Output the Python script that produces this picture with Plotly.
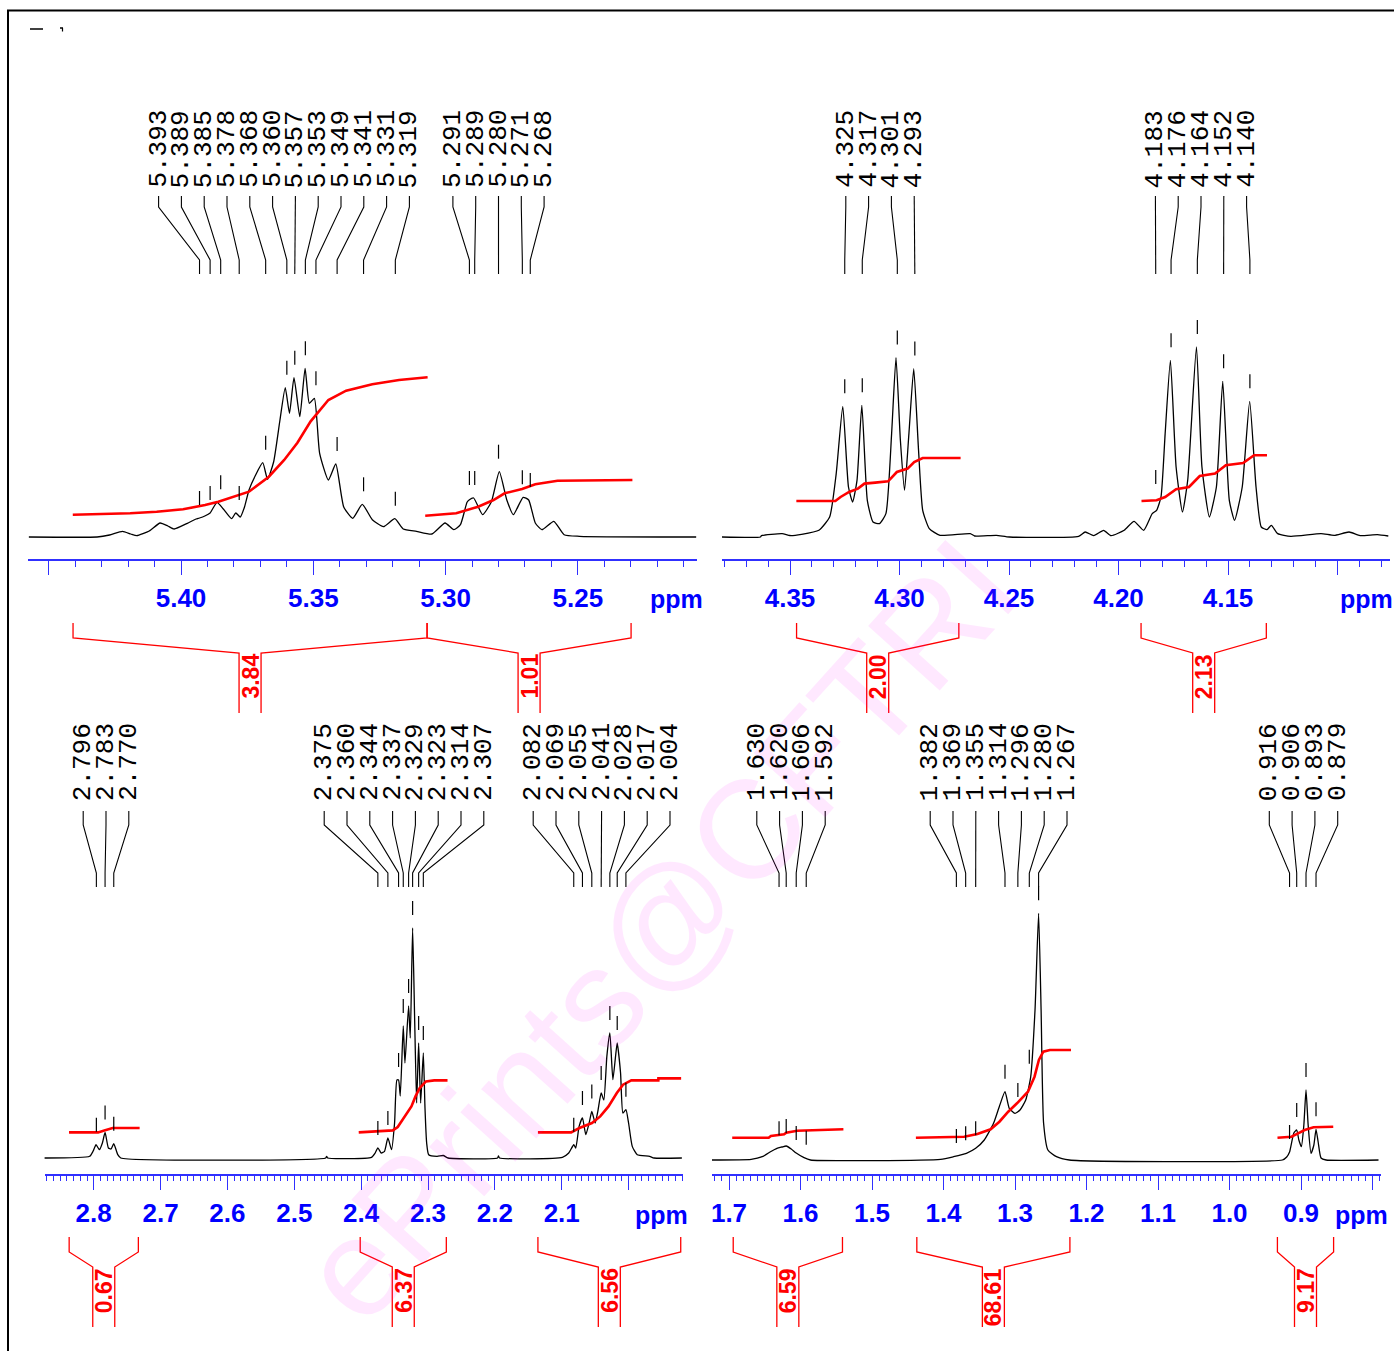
import numpy as np
import plotly.graph_objects as go

W, H = 1394, 1351
BLUE = "#0000ff"
AXBLUE = "#3030ff"
RED = "#ff0000"
MONO = "Liberation Mono, DejaVu Sans Mono, monospace"
NARROW = "Liberation Sans Narrow, Arial Narrow, Liberation Sans, Arial, sans-serif"

# ------------------------------------------------------------------ data
# peak labels (ppm)
A_PEAKS_1 = [5.393, 5.389, 5.385, 5.378, 5.368, 5.360, 5.357, 5.353, 5.349, 5.341, 5.331, 5.319]
A_PEAKS_2 = [5.291, 5.289, 5.280, 5.271, 5.268]
B_PEAKS_1 = [4.325, 4.317, 4.301, 4.293]
B_PEAKS_2 = [4.183, 4.176, 4.164, 4.152, 4.140]
C_PEAKS_1 = [2.796, 2.783, 2.770]
C_PEAKS_2 = [2.375, 2.360, 2.344, 2.337, 2.329, 2.323, 2.314, 2.307]
C_PEAKS_3 = [2.082, 2.069, 2.055, 2.041, 2.028, 2.017, 2.004]
D_PEAKS_1 = [1.630, 1.620, 1.606, 1.592]
D_PEAKS_2 = [1.382, 1.369, 1.355, 1.314, 1.296, 1.280, 1.267]
D_PEAKS_3 = [0.916, 0.906, 0.893, 0.879]

# integral regions (ppm from, ppm to) and values
A_INT_RANGES = [(5.4408, 5.3070), (5.3070, 5.2299)]
A_INT_VALUES = ["3.84", "1.01"]
B_INT_RANGES = [(4.3470, 4.2729), (4.1897, 4.1325)]
B_INT_VALUES = ["2.00", "2.13"]
C_INT_RANGES = [(2.8367, 2.7332), (2.4014, 2.2726), (2.1356, 1.9220)]
C_INT_VALUES = ["0.67", "6.37", "6.56"]
D_INT_RANGES = [(1.6941, 1.5413), (1.4373, 1.2232), (0.9330, 0.8544)]
D_INT_VALUES = ["6.59", "68.61", "9.17"]

# axis ticks
A_TICKS = [5.45, 5.40, 5.35, 5.30, 5.25]
A_TICK_TEXT = ["", "5.40", "5.35", "5.30", "5.25"]
B_TICKS = [4.35, 4.30, 4.25, 4.20, 4.15, 4.10]
B_TICK_TEXT = ["4.35", "4.30", "4.25", "4.20", "4.15", ""]
C_TICKS = [2.8, 2.7, 2.6, 2.5, 2.4, 2.3, 2.2, 2.1, 2.0]
C_TICK_TEXT = ["2.8", "2.7", "2.6", "2.5", "2.4", "2.3", "2.2", "2.1", ""]
D_TICKS = [1.7, 1.6, 1.5, 1.4, 1.3, 1.2, 1.1, 1.0, 0.9, 0.8]
D_TICK_TEXT = ["1.7", "1.6", "1.5", "1.4", "1.3", "1.2", "1.1", "1.0", "0.9", ""]

# spectra (ppm, intensity)
A_SPECTRUM = [
    (5.4575, 0), (5.4317, 0), (5.4270, 2), (5.4221, 5.7), (5.4190, 3), (5.4167, 1.3),
    (5.4120, 6), (5.4079, 14), (5.4050, 11), (5.4026, 8), (5.3976, 13.7), (5.3943, 18),
    (5.3930, 19), (5.3910, 21), (5.3890, 24), (5.3864, 34.7), (5.3840, 28), (5.3809, 18.3),
    (5.3793, 24), (5.3776, 20), (5.3760, 30), (5.3743, 47), (5.3718, 62), (5.3691, 74.3),
    (5.3673, 57.7), (5.3650, 75), (5.3626, 117), (5.3606, 149.3), (5.3590, 123.7),
    (5.3573, 159.3), (5.3551, 120.3), (5.3531, 168.7), (5.3515, 133.7), (5.3496, 138.7),
    (5.3476, 83.7), (5.3443, 57), (5.3415, 73), (5.3385, 30), (5.3351, 18.7), (5.3315, 32.7),
    (5.3277, 17.3), (5.3235, 10.3), (5.3192, 18.3), (5.3160, 8), (5.3110, 5.7), (5.3052, 3),
    (5.3002, 14), (5.2969, 7.3), (5.2944, 12.3), (5.2919, 34.7), (5.2910, 37.3), (5.2894, 39),
    (5.2860, 22.3), (5.2827, 35.3), (5.2797, 65.3), (5.2769, 37.3), (5.2744, 22.3),
    (5.2707, 39.7), (5.2686, 37), (5.2661, 14), (5.2636, 7.3), (5.2591, 15.7), (5.2552, 2.3),
    (5.2494, 0.7), (5.2053, 0),
]
B_SPECTRUM = [
    (4.3813, 0), (4.3635, 0), (4.3630, 1.4), (4.3536, 3.4), (4.3500, 1.5), (4.3447, 2.7),
    (4.3368, 6.7), (4.3319, 20), (4.3289, 63.4), (4.3259, 130.7), (4.3233, 50), (4.3214, 35),
    (4.3194, 56.7), (4.3172, 131.7), (4.3147, 36.7), (4.3121, 15), (4.3091, 13.4),
    (4.3062, 23.4), (4.3036, 103.4), (4.3016, 179.4), (4.2996, 96.7), (4.2977, 46.7),
    (4.2957, 103.4), (4.2935, 168.4), (4.2913, 86.7), (4.2894, 26.7), (4.2864, 8.4),
    (4.2815, 1.7), (4.2677, 3.4), (4.2657, 1), (4.2558, 1.7), (4.2498, 0), (4.2182, 0.7),
    (4.2152, 5), (4.2113, 1.4), (4.2068, 6.7), (4.2034, 1.4), (4.1974, 6.7), (4.1929, 15.7),
    (4.1885, 6.7), (4.1846, 23.4), (4.1826, 26.7), (4.1806, 40), (4.1787, 103.4),
    (4.1763, 176.7), (4.1737, 70), (4.1708, 25), (4.1684, 56.7), (4.1644, 190), (4.1619, 70),
    (4.1585, 20), (4.1553, 50), (4.1524, 155.7), (4.1494, 36.7), (4.1470, 16.7), (4.1435, 50),
    (4.1401, 135.7), (4.1372, 50), (4.1348, 10), (4.1322, 7.4), (4.1302, 11.7), (4.1273, 3.4),
    (4.1213, 0.7), (4.1075, 3.4), (4.1015, 1.7), (4.0947, 5), (4.0897, 1.4), (4.0818, 2.4),
    (4.0768, 1),
]
C_SPECTRUM = [
    (2.8761, 0), (2.8060, 1.7), (2.8010, 6.7), (2.7965, 13.3), (2.7915, 8.3), (2.7870, 15),
    (2.7830, 25.6), (2.7780, 10), (2.7740, 9), (2.7700, 14.3), (2.7640, 3.3), (2.7595, 0),
    (2.4530, 0), (2.4515, 1.7), (2.4500, 0), (2.3845, 0.7), (2.3790, 5), (2.3750, 10),
    (2.3700, 5), (2.3650, 6.7), (2.3600, 20), (2.3545, 8.3), (2.3500, 35), (2.3465, 78),
    (2.3440, 78), (2.3415, 62), (2.3370, 132), (2.3345, 95), (2.3290, 152), (2.3265, 120),
    (2.3230, 230), (2.3200, 140), (2.3170, 55), (2.3140, 115), (2.3110, 55), (2.3070, 105),
    (2.3045, 50), (2.3020, 15), (2.2990, 3.3), (2.2865, 1.7), (2.2771, 2.5), (2.2700, 0),
    (2.1960, 0), (2.1946, 2), (2.1930, 0), (2.0990, 0.7), (2.0895, 5), (2.0820, 13.3),
    (2.0790, 10), (2.0740, 31.6), (2.0690, 40), (2.0640, 23.3), (2.0590, 35), (2.0550, 46.6),
    (2.0500, 35), (2.0460, 46.6), (2.0410, 65), (2.0370, 58), (2.0325, 101.6), (2.0280, 125),
    (2.0235, 78.3), (2.0195, 101.6), (2.0170, 115), (2.0120, 85), (2.0085, 45), (2.0040, 48.3),
    (2.0000, 35), (1.9945, 11.6), (1.9870, 3.3), (1.9685, 1.7), (1.9620, 0), (1.9203, 0),
]
D_SPECTRUM = [
    (1.7266, 0), (1.6690, 0.7), (1.6535, 3.3), (1.6420, 8.3), (1.6330, 11.7), (1.6260, 13),
    (1.6200, 14), (1.6130, 11), (1.6060, 7), (1.5950, 2.3), (1.5860, 0), (1.4040, 0.7),
    (1.3860, 3.3), (1.3680, 6.7), (1.3550, 11.7), (1.3430, 20), (1.3300, 36.7), (1.3220, 53.3),
    (1.3140, 68.3), (1.3080, 51.7), (1.3000, 46.7), (1.2930, 50), (1.2850, 60), (1.2780, 83.3),
    (1.2720, 150), (1.2670, 246.7), (1.2635, 150), (1.2600, 36.7), (1.2540, 10), (1.2420, 3.3),
    (1.2240, 0), (0.9260, 0), (0.9200, 3), (0.9160, 8), (0.9100, 27), (0.9060, 30),
    (0.9030, 20), (0.8995, 13.3), (0.8960, 35), (0.8930, 70), (0.8900, 35), (0.8860, 6.7),
    (0.8820, 15), (0.8790, 30.7), (0.8760, 18), (0.8720, 2), (0.8650, 0), (0.7916, 0),
]

# integral curves (ppm, value)
A_INT_1 = [(5.4409, 22.3), (5.4192, 23.7), (5.4092, 25.3), (5.3992, 27.7), (5.3909, 32),
           (5.3859, 35.3), (5.3743, 45.3), (5.3668, 60.3), (5.3610, 77), (5.3560, 94.3),
           (5.3510, 115.7), (5.3476, 127), (5.3443, 137), (5.3376, 146.3), (5.3277, 152.7),
           (5.3176, 157), (5.3068, 159.7)]
A_INT_2 = [(5.3077, 21.3), (5.2960, 23.7), (5.2877, 30.3), (5.2819, 37), (5.2777, 43.7),
           (5.2711, 48), (5.2661, 52.7), (5.2577, 56.3), (5.2294, 57)]
B_INT_1 = [(4.3471, 36), (4.3293, 36), (4.3269, 40), (4.3230, 45), (4.3190, 48.4),
           (4.3160, 53.4), (4.3111, 54.4), (4.3052, 55.7), (4.3012, 65), (4.2963, 68.4),
           (4.2933, 75), (4.2894, 79), (4.2721, 79)]
B_INT_2 = [(4.1895, 36), (4.1826, 36.7), (4.1787, 40), (4.1737, 47.7), (4.1678, 50),
           (4.1629, 61), (4.1559, 63.4), (4.1510, 71.7), (4.1431, 74), (4.1381, 81.7),
           (4.1322, 81.7)]
C_INT_1 = [(2.8369, 25.6), (2.7934, 25.6), (2.7841, 27.6), (2.7717, 30), (2.7313, 30)]
C_INT_2 = [(2.4036, 25.6), (2.3527, 27.6), (2.3453, 31), (2.3342, 41.6), (2.3248, 51.6),
           (2.3187, 61.6), (2.3124, 70), (2.3031, 76.6), (2.2907, 77.6), (2.2708, 77.6)]
C_INT_3 = [(2.1356, 25.6), (2.0859, 25.6), (2.0735, 30), (2.0548, 35), (2.0424, 41.6),
           (2.0300, 51.6), (2.0176, 65), (2.0083, 73.3), (1.9959, 77.6), (1.9555, 77.6),
           (1.9554, 79.6), (1.9214, 79.6)]
D_INT_1 = [(1.6955, 22.3), (1.6445, 22.3), (1.6414, 24), (1.6229, 25.7), (1.6200, 27.3),
           (1.6045, 29.3), (1.5400, 30.7)]
D_INT_2 = [(1.4386, 22.3), (1.3711, 23.3), (1.3526, 26), (1.3341, 30.7), (1.3218, 38.3),
           (1.3095, 48.3), (1.2972, 56.7), (1.2819, 68.3), (1.2727, 83.3), (1.2666, 100),
           (1.2604, 108.3), (1.2512, 110), (1.2217, 110)]
D_INT_3 = [(0.9329, 22.3), (0.9133, 23.3), (0.9041, 26.7), (0.8948, 30), (0.8825, 32.7),
           (0.8549, 33.3)]

# ------------------------------------------------------------------ layout constants
TOP = dict(base=537, axis_y=560, vert=(95, 718), tl=14, label_bottom=188,
           lead=(196, 207, 260, 274), brk=(623, 638, 653, 713))
BOT = dict(axis_y=1174.5, vert=(718, 1345), tl=15, label_bottom=801,
           lead=(811, 825, 873, 887))

PANELS = [
    dict(TOP, ref_ppm=5.40, ref_px=181.0, ppp=2646.0, px=(28, 697), ppm_xy=(676, 599),
         spectrum=A_SPECTRUM, integrals=[A_INT_1, A_INT_2], groups=[A_PEAKS_1, A_PEAKS_2],
         centers=[284, 498.5], ranges=A_INT_RANGES, values=A_INT_VALUES,
         ticks=A_TICKS, ticktext=A_TICK_TEXT, tol=0.0018),
    dict(TOP, ref_ppm=4.35, ref_px=790.0, ppp=2190.0, px=(722, 1390), ppm_xy=(1366, 599),
         spectrum=B_SPECTRUM, integrals=[B_INT_1, B_INT_2], groups=[B_PEAKS_1, B_PEAKS_2],
         centers=[880, 1201], ranges=B_INT_RANGES, values=B_INT_VALUES,
         ticks=B_TICKS, ticktext=B_TICK_TEXT, tol=0.003),
    dict(BOT, base=1158, brk=(1237, 1252, 1267, 1327), ref_ppm=2.8, ref_px=93.7, ppp=668.6,
         px=(44.6, 683), ppm_xy=(661, 1215),
         spectrum=C_SPECTRUM, integrals=[C_INT_1, C_INT_2, C_INT_3],
         groups=[C_PEAKS_1, C_PEAKS_2, C_PEAKS_3], centers=[106, 404, 601.6],
         ranges=C_INT_RANGES, values=C_INT_VALUES, ticks=C_TICKS, ticktext=C_TICK_TEXT, tol=0.0025),
    dict(BOT, base=1160, brk=(1237, 1252, 1267, 1327), ref_ppm=1.7, ref_px=729.0, ppp=715.0,
         px=(712, 1380.5), ppm_xy=(1361, 1215),
         spectrum=D_SPECTRUM, integrals=[D_INT_1, D_INT_2, D_INT_3],
         groups=[D_PEAKS_1, D_PEAKS_2, D_PEAKS_3], centers=[791, 998.6, 1303.5],
         ranges=D_INT_RANGES, values=D_INT_VALUES, ticks=D_TICKS, ticktext=D_TICK_TEXT, tol=0.004),
]
STRIDE = 22.8
STEM_HALF = 11.0


def px2ppm(P, px):
    return P["ref_ppm"] - (px - P["ref_px"]) / P["ppp"]


def ppm2px(P, ppm):
    return P["ref_px"] + (P["ref_ppm"] - ppm) * P["ppp"]


def hh(P, py):
    return P["base"] - py


def peak_height(spec, p, tol):
    xs = np.array([s[0] for s in spec])
    ys = np.array([s[1] for s in spec])
    m = np.abs(xs - p) <= tol
    if m.any():
        return float(ys[m].max())
    o = np.argsort(xs)
    return float(np.interp(p, xs[o], ys[o]))


fig = go.Figure()
annotations = []
layout_axes = {}

# watermark first (drawn beneath other annotations)
annotations.append(dict(
    xref="paper", yref="paper", x=658 / W, y=1 - 930 / H, xanchor="center", yanchor="middle",
    text="ePrints@CFTRI", showarrow=False, textangle=-48,
    font=dict(family="Liberation Sans, Arial, sans-serif", size=140, color="rgba(255,0,255,0.09)")))

for k, P in enumerate(PANELS, start=1):
    sfx = "" if k == 1 else str(k)
    xr, yr = "x" + sfx, "y" + sfx
    px0, px1 = P["px"]
    vt, vb = P["vert"]

    layout_axes["xaxis" + sfx] = dict(
        domain=[px0 / W, px1 / W], range=[px2ppm(P, px0), px2ppm(P, px1)],
        anchor="free", position=1 - P["axis_y"] / H,
        showline=True, linecolor=AXBLUE, linewidth=1.5, mirror=False,
        ticks="outside", ticklen=P["tl"], tickwidth=1.3, tickcolor=AXBLUE,
        tickmode="array", tickvals=P["ticks"], ticktext=P["ticktext"],
        tickfont=dict(family=NARROW, size=26, color=BLUE, weight="bold"),
        ticklabelstandoff=1,
        showgrid=False, zeroline=False, fixedrange=True,
        minor=dict(tickmode="linear", tick0=0, dtick=0.01, ticks="outside", ticklen=6,
                   tickwidth=1, tickcolor=AXBLUE, showgrid=False),
    )
    layout_axes["yaxis" + sfx] = dict(
        domain=[1 - vb / H, 1 - vt / H], range=[hh(P, vb), hh(P, vt)],
        visible=False, anchor=xr, fixedrange=True)

    # spectrum
    sx = [s[0] for s in P["spectrum"]]
    sy = [s[1] for s in P["spectrum"]]
    fig.add_trace(go.Scatter(x=sx, y=sy, mode="lines", xaxis=xr, yaxis=yr,
                             line=dict(color="black", width=1.3, shape="spline", smoothing=0.5),
                             hoverinfo="skip", showlegend=False))
    # integral curves
    for curve in P["integrals"]:
        fig.add_trace(go.Scatter(x=[c[0] for c in curve], y=[c[1] for c in curve], mode="lines",
                                 xaxis=xr, yaxis=yr, line=dict(color=RED, width=2.6),
                                 hoverinfo="skip", showlegend=False))

    # peak marks, leader lines, labels
    mx, my, lx, ly = [], [], [], []
    t1, t2, t3, t4 = P["lead"]
    for grp, cen in zip(P["groups"], P["centers"]):
        n = len(grp)
        for i, p in enumerate(grp):
            h = peak_height(P["spectrum"], p, P["tol"])
            mx += [p, p, None]
            my += [h + 13, h + 27, None]
            lab_px = cen + (i - (n - 1) / 2) * STRIDE
            lp = px2ppm(P, lab_px)
            lx += [lp, lp, p, p, None]
            ly += [hh(P, t1), hh(P, t2), hh(P, t3), hh(P, t4), None]
            annotations.append(dict(
                xref=xr, yref=yr, x=lp, y=hh(P, P["label_bottom"]), xanchor="center",
                yanchor="bottom", text=f"{p:.3f}", showarrow=False, textangle=-90,
                borderpad=0, borderwidth=0,
                font=dict(family=MONO, size=26, color="black")))
    fig.add_trace(go.Scatter(x=mx, y=my, mode="lines", xaxis=xr, yaxis=yr,
                             line=dict(color="black", width=1.2), hoverinfo="skip", showlegend=False))
    fig.add_trace(go.Scatter(x=lx, y=ly, mode="lines", xaxis=xr, yaxis=yr,
                             line=dict(color="black", width=1.1), hoverinfo="skip", showlegend=False))

    # integration brackets
    bt, be, bs, bb = P["brk"]
    bx, by = [], []
    for (p0, p1), val in zip(P["ranges"], P["values"]):
        a, b = ppm2px(P, p0), ppm2px(P, p1)
        mid = (a + b) / 2
        sl, sr = px2ppm(P, mid - STEM_HALF), px2ppm(P, mid + STEM_HALF)
        bx += [p0, p0, sl, sl, None, p1, p1, sr, sr, None]
        by += [hh(P, bt), hh(P, be), hh(P, bs), hh(P, bb), None,
               hh(P, bt), hh(P, be), hh(P, bs), hh(P, bb), None]
        annotations.append(dict(
            xref=xr, yref=yr, x=px2ppm(P, mid), y=hh(P, bs + 1), xanchor="center", yanchor="top",
            text=f"<b>{val}</b>", showarrow=False, textangle=-90, borderpad=0, borderwidth=0,
            font=dict(family=NARROW, size=23, color=RED)))
    fig.add_trace(go.Scatter(x=bx, y=by, mode="lines", xaxis=xr, yaxis=yr,
                             line=dict(color=RED, width=1.3), hoverinfo="skip", showlegend=False))

    # ppm unit label
    ux, uy = P["ppm_xy"]
    annotations.append(dict(
        xref="paper", yref="paper", x=ux / W, y=1 - uy / H, xanchor="center", yanchor="middle",
        text="<b>ppm</b>", showarrow=False,
        font=dict(family=NARROW, size=25, color=BLUE)))

shapes = [
    dict(type="rect", xref="paper", yref="paper", x0=8 / W, x1=1.02, y0=-0.02, y1=1 - 10.5 / H,
         line=dict(color="black", width=2), fillcolor="rgba(0,0,0,0)"),
    dict(type="line", xref="paper", yref="paper", x0=30 / W, x1=43 / W, y0=1 - 29 / H, y1=1 - 29 / H,
         line=dict(color="black", width=1.5)),
    dict(type="line", xref="paper", yref="paper", x0=60 / W, x1=63 / W, y0=1 - 28 / H, y1=1 - 28 / H,
         line=dict(color="black", width=1.5)),
    dict(type="line", xref="paper", yref="paper", x0=62.5 / W, x1=62.5 / W, y0=1 - 28 / H, y1=1 - 31.5 / H,
         line=dict(color="black", width=1.2)),
]

fig.update_layout(
    width=W, height=H, autosize=False,
    margin=dict(l=0, r=0, t=0, b=0, pad=0),
    paper_bgcolor="white", plot_bgcolor="rgba(0,0,0,0)",
    showlegend=False, annotations=annotations, shapes=shapes,
    **layout_axes,
)

fig.write_html("out.html", config={"displayModeBar": False})
